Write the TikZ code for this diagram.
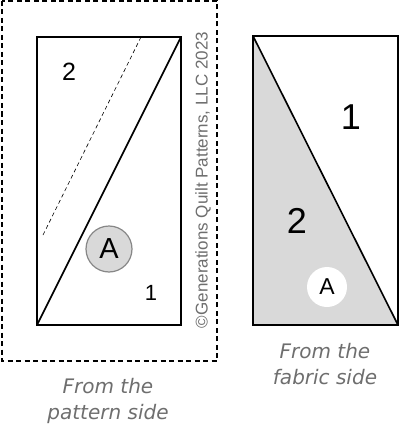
\documentclass[tikz,border=0pt]{standalone}
\usepackage{fontspec}
\setmainfont{Liberation Sans}
\newfontfamily\sidefont{DejaVu Sans}
\usetikzlibrary{positioning}
\definecolor{patchgray}{RGB}{217,217,217}
\definecolor{ringgray}{RGB}{135,135,135}
\definecolor{textgray}{RGB}{110,110,110}

\begin{document}
\begin{tikzpicture}[x=1pt,y=-1pt,
    seam/.style={line width=1.6pt},
    num/.style={inner sep=0pt},
    side/.style={font=\sidefont\itshape\fontsize{20}{26}\selectfont, text=textgray, align=center}]
    \useasboundingbox (0,0) rectangle (400,433);

    % pattern side
    \draw[line width=1.1pt, dash pattern=on 5pt off 3.5pt] (2,1) rectangle (217,361);
    \coordinate (ptl) at (37,37);
    \coordinate (ptr) at (181,37);
    \coordinate (pbl) at (37,325);
    \coordinate (pbr) at (181,325);
    \draw[seam] (ptl) rectangle (pbr);
    \draw[seam] (pbl) -- (ptr);
    \coordinate (cutlo) at (43,235);
    \coordinate (cuthi) at (141,37);
    \draw[line width=0.6pt, dash pattern=on 4pt off 3pt] (cutlo) -- (cuthi);
    \node[num, font=\fontsize{25}{25}\selectfont] (ptwo) at (69,72) {2};
    \node[num, font=\fontsize{22}{22}\selectfont] (pone) at (151,293) {1};
    \node[circle, draw=ringgray, line width=1.2pt, fill=patchgray, minimum size=46pt,
        inner sep=0pt, font=\fontsize{29}{29}\selectfont] (pA) at (109,249) {A};
    \node[rotate=90, text=textgray, font=\fontsize{17}{17}\selectfont] (copy) at (203,180)
        {\textcopyright Generations Quilt Patterns, LLC 2023};
    \node[side] (pside) at (108,401) {From the\\pattern side};

    % fabric side
    \coordinate (ftl) at (253,36);
    \coordinate (ftr) at (398,36);
    \coordinate (fbl) at (253,325);
    \coordinate (fbr) at (398,325);
    \fill[patchgray] (ftl) -- (fbr) -- (fbl) -- cycle;
    \draw[seam] (ftl) rectangle (fbr);
    \draw[seam] (ftl) -- (fbr);
    \node[num, font=\fontsize{36}{36}\selectfont] (fone) at (351,117) {1};
    \node[num, font=\fontsize{36}{36}\selectfont] (ftwo) at (297,221) {2};
    \node[circle, fill=white, minimum size=40pt, inner sep=0pt,
        font=\fontsize{23}{23}\selectfont] (fA) at (327,287) {A};
    \node[side] (fside) at (325,364) {From the\\fabric side};
\end{tikzpicture}
\end{document}
